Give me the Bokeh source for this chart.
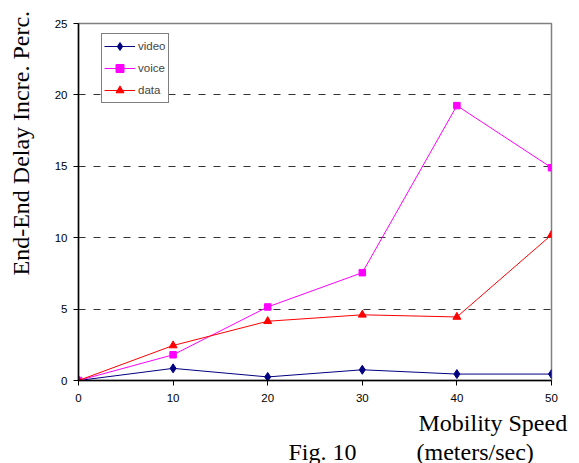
from bokeh.plotting import figure
from bokeh.models import Range1d, Legend, LegendItem, FixedTicker, Title
from bokeh.embed import file_html
from bokeh.resources import INLINE

speeds = [0, 10, 20, 30, 40, 50]
video = [0.0, 0.85, 0.25, 0.75, 0.45, 0.45]
voice = [0.0, 1.8, 5.15, 7.55, 19.25, 14.9]
data = [0.0, 2.45, 4.15, 4.6, 4.45, 10.2]
x_ticks = [0, 10, 20, 30, 40, 50]
y_ticks = [0, 5, 10, 15, 20, 25]

p = figure(width=579, height=463, output_backend="svg", toolbar_location=None,
           x_range=Range1d(0, 50), y_range=Range1d(0, 25),
           min_border_left=78, min_border_right=28, min_border_top=23, min_border_bottom=83)
p.background_fill_color = "white"
p.border_fill_color = "white"
p.outline_line_color = "#808080"
p.outline_line_width = 1.5

p.xgrid.visible = False
p.ygrid.ticker = FixedTicker(ticks=y_ticks[1:])
p.ygrid.grid_line_color = "#333333"
p.ygrid.grid_line_dash = "7 8"
p.ygrid.grid_line_width = 1

for ax, ticks in ((p.xaxis, x_ticks), (p.yaxis, y_ticks)):
    ax.ticker = FixedTicker(ticks=ticks)
    ax.axis_line_color = "black"
    ax.axis_line_width = 1.5
    ax.major_tick_line_color = "black"
    ax.major_tick_out = 5
    ax.major_tick_in = 0
    ax.minor_tick_line_color = None
    ax.major_label_text_font = "Liberation Sans"
    ax.major_label_text_font_size = "11.5px"
    ax.major_label_text_color = "black"
p.xaxis.major_label_standoff = 8
p.yaxis.major_label_standoff = 6

r1 = p.line(speeds, video, line_color="#000080", line_width=1)
m1 = p.scatter(speeds, video, marker="diamond", size=9, fill_color="#000080", line_color="#000080")
r2 = p.line(speeds, voice, line_color="#FF00FF", line_width=1)
m2 = p.scatter(speeds, voice, marker="square", size=6.5, fill_color="#FF00FF", line_color="#FF00FF")
r3 = p.line(speeds, data, line_color="#FF0000", line_width=1)
m3 = p.scatter(speeds, data, marker="triangle", size=8, fill_color="#FF0000", line_color="#FF0000")

legend = Legend(items=[LegendItem(label="video", renderers=[r1, m1]),
                       LegendItem(label="voice", renderers=[r2, m2]),
                       LegendItem(label="data", renderers=[r3, m3])],
                location=(23, 277), orientation="vertical")
legend.border_line_color = "black"
legend.border_line_width = 1
legend.background_fill_color = "white"
legend.background_fill_alpha = 1
legend.label_text_font = "Liberation Sans"
legend.label_text_font_size = "11.5px"
legend.glyph_width = 31
legend.glyph_height = 20
legend.label_height = 20
legend.spacing = 2
legend.padding = 2
legend.margin = 0
legend.label_standoff = 3
p.add_layout(legend, "center")

serif = "Liberation Serif"
def title(text, align, offset, standoff, size="24px"):
    return Title(text=text, align=align, offset=offset, standoff=standoff,
                 text_font=serif, text_font_size=size, text_font_style="normal",
                 text_color="black")

p.add_layout(title("\u00a0", "left", 0, 10, "1px"), "left")
p.add_layout(title("End-End Delay Incre. Perc.", "left", 105, 10), "left")
p.add_layout(title("Mobility Speed", "left", 340, 6), "below")
p.add_layout(title("Fig. 10" + "\u00a0" * 10 + "(meters/sec)", "left", 210, -4), "below")

open("out.html", "w").write(file_html(p, INLINE))
